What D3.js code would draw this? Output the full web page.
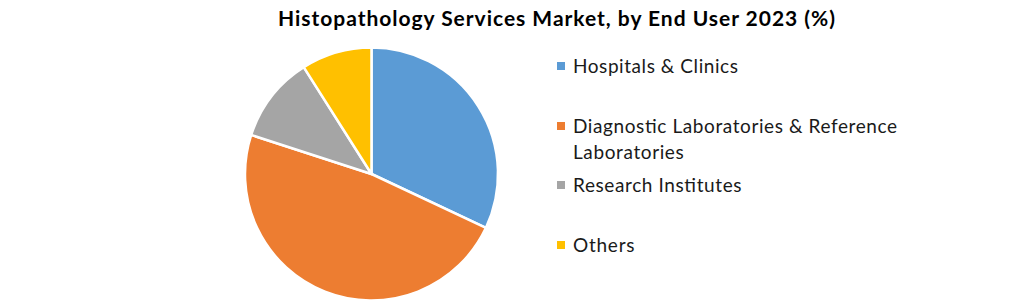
<!DOCTYPE html>
<html><head><meta charset="utf-8">
<script src="https://cdn.jsdelivr.net/npm/d3@7"></script>
<style>body{margin:0;background:#fff}svg{display:block}</style>
</head><body>
<svg id="c" width="1020" height="303"></svg>
<script>
const categories = ["Hospitals & Clinics", "Diagnostic Laboratories & Reference Laboratories", "Research Institutes", "Others"];
const values = [32, 48, 11, 9];
const legendLines = [["Hospitals & Clinics"], ["Diagnostic Laboratories & Reference", "Laboratories"], ["Research Institutes"], ["Others"]];
const colors = ["#5B9BD5", "#ED7D31", "#A5A5A5", "#FFC000"];
const title = "Histopathology Services Market, by End User 2023 (%)";

const svg = d3.select("#c");
const font = "Lato, 'Open Sans', sans-serif";
svg.append("text").attr("x", 556.5).attr("y", 26).attr("text-anchor", "middle")
  .attr("font-family", font).attr("font-weight", "bold").attr("font-size", 21).attr("fill", "#000")
  .attr("textLength", 557).attr("lengthAdjust", "spacing").text(title);

const cx = 371.5, cy = 174, r = 126.5;
const pie = d3.pie().sort(null).value(d => d);
const arc = d3.arc().innerRadius(0).outerRadius(r);
const color = d3.scaleOrdinal().domain(categories).range(colors);
svg.append("g").attr("transform", `translate(${cx},${cy})`)
  .selectAll("path").data(pie(values)).join("path")
  .attr("d", arc).attr("fill", (d, i) => color(categories[i]))
  .attr("stroke", "#fff").attr("stroke-width", 2.5).attr("stroke-linejoin", "round");

const ys = [66, 126, 185, 245];
const lg = svg.append("g");
categories.forEach((c, i) => {
  lg.append("rect").attr("x", 557).attr("y", ys[i] - 4).attr("width", 8).attr("height", 8).attr("fill", color(c));
  const t = lg.append("text").attr("y", ys[i] + 7).attr("font-family", font).attr("font-size", 19).attr("fill", "#1a1a1a");
  legendLines[i].forEach((l, j) => {
    const ts = t.append("tspan").attr("x", 573).attr("dy", j ? 26 : 0).text(l);
    const len = ts.node().getComputedTextLength();
    ts.attr("textLength", len * 1.065).attr("lengthAdjust", "spacing");
  });
});
</script>
</body></html>
